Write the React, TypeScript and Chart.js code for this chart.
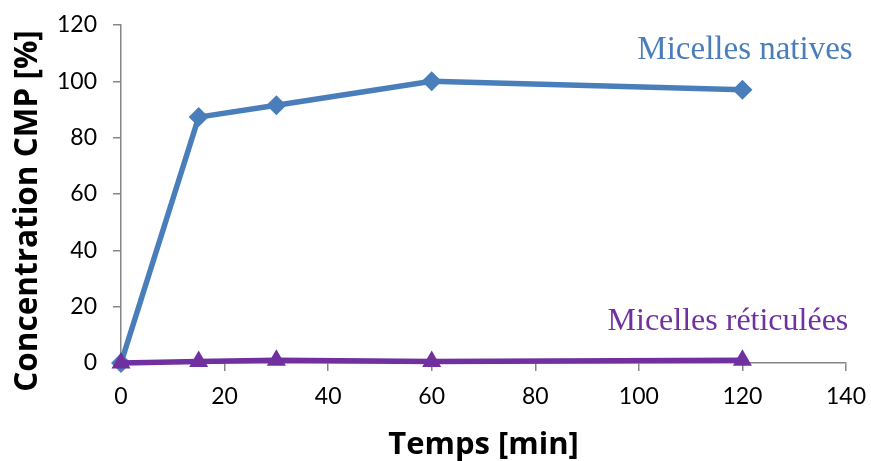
import React, { useEffect, useRef } from "react";
import { Chart, registerables } from "chart.js";
Chart.register(...registerables);

const times = [0, 15, 30, 60, 120];
const nativesValues = [0, 87.3, 91.5, 100, 97];
const reticuleesValues = [0, 0.5, 1, 0.5, 1];
const xTicks = [0, 20, 40, 60, 80, 100, 120, 140];
const yTicks = [0, 20, 40, 60, 80, 100, 120];
const seriesNames = ["Micelles natives", "Micelles réticulées"];
const xTitle = "Temps [min]";
const yTitle = "Concentration CMP [%]";

const BLUE = "#4A7EBB";
const PURPLE = "#7030A0";
const AXIS = "#868686";

const labelPlugin = {
  id: "seriesLabels",
  afterDraw(chart: any) {
    const { ctx, scales } = chart;
    const xs = scales.x;
    const ys = scales.y;
    ctx.save();
    ctx.textAlign = "center";
    ctx.textBaseline = "alphabetic";
    ctx.font = "33px 'Liberation Serif', serif";
    ctx.fillStyle = BLUE;
    ctx.fillText(seriesNames[0], xs.getPixelForValue(120.5), ys.getPixelForValue(107.9));
    ctx.font = "32px 'Liberation Serif', serif";
    ctx.fillStyle = PURPLE;
    ctx.fillText(seriesNames[1], xs.getPixelForValue(117.2), ys.getPixelForValue(11.7));
    // y axis title
    ctx.translate(28.5, (ys.top + ys.bottom) / 2 + 17);
    ctx.rotate(-Math.PI / 2);
    ctx.textBaseline = "middle";
    ctx.fillStyle = "#000";
    ctx.font = "bold 31.5px 'Open Sans', sans-serif";
    ctx.fillText(yTitle, 0, 0);
    ctx.restore();
  },
};

export default function App() {
  const ref = useRef<HTMLCanvasElement>(null);
  useEffect(() => {
    if (!ref.current) return;
    const chart = new Chart(ref.current, {
      type: "line",
      data: {
        datasets: [
          {
            label: seriesNames[1],
            data: times.map((t, i) => ({ x: t, y: reticuleesValues[i] })),
            borderColor: PURPLE,
            backgroundColor: PURPLE,
            borderWidth: 5.5,
            pointStyle: "triangle",
            pointRadius: 11,
            pointBorderWidth: 0,
            tension: 0,
            clip: false,
          },
          {
            label: seriesNames[0],
            data: times.map((t, i) => ({ x: t, y: nativesValues[i] })),
            borderColor: BLUE,
            backgroundColor: BLUE,
            borderWidth: 5.5,
            pointStyle: "rectRot",
            pointRadius: 10,
            pointBorderWidth: 0,
            tension: 0,
            clip: false,
          },
        ],
      },
      options: {
        animation: false,
        responsive: false,
        maintainAspectRatio: false,
        layout: { padding: { top: 25, right: 25, bottom: 0, left: 0 } },
        plugins: { legend: { display: false }, tooltip: { enabled: false } },
        scales: {
          x: {
            type: "linear",
            min: 0,
            max: 140,
            afterBuildTicks: (s: any) => {
              s.ticks = xTicks.map((v) => ({ value: v }));
            },
            afterFit: (s: any) => {
              s.height = 98;
              s.paddingLeft = 0;
              s.paddingRight = 0;
            },
            grid: { display: true, drawOnChartArea: false, color: AXIS, lineWidth: 1.5, tickLength: 8 },
            border: { display: true, color: AXIS, width: 1.5 },
            ticks: { color: "#000", font: { family: "Lato", size: 23 }, padding: 12, maxRotation: 0 },
            title: {
              display: true,
              text: xTitle,
              color: "#000",
              font: { family: "'Open Sans'", size: 31, weight: "bold", lineHeight: 1 },
              padding: { top: 0, bottom: 0 },
            },
          },
          y: {
            type: "linear",
            min: 0,
            max: 120,
            afterBuildTicks: (s: any) => {
              s.ticks = yTicks.map((v) => ({ value: v }));
            },
            afterFit: (s: any) => {
              s.width = 121;
              s.paddingTop = 0;
              s.paddingBottom = 0;
            },
            grid: { display: true, drawOnChartArea: false, color: AXIS, lineWidth: 1.5, tickLength: 8 },
            border: { display: true, color: AXIS, width: 1.5 },
            ticks: { color: "#000", font: { family: "Lato", size: 23 }, padding: 16 },
            title: { display: false, text: yTitle },
          },
        },
      },
      plugins: [labelPlugin],
    });
    return () => chart.destroy();
  }, []);
  return (
    <div style={{ position: "fixed", left: 0, top: 0, width: 871, height: 461, background: "#fff" }}>
      <canvas ref={ref} width={871} height={461} style={{ width: 871, height: 461 }} />
    </div>
  );
}
